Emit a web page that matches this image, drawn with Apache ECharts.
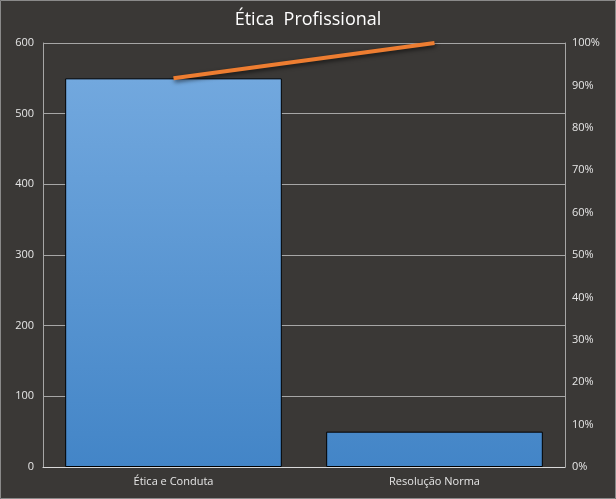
<!DOCTYPE html>
<html><head><meta charset="utf-8">
<script src="https://cdn.jsdelivr.net/npm/echarts@6/dist/echarts.min.js"></script>
<style>html,body{margin:0;padding:0;background:#3a3836;}#c{width:616px;height:499px;}</style>
</head><body><div id="c"></div>
<script>
const categories = ['Ética e Conduta', 'Resolução Norma'];
const counts = [550, 50];
const cumulativePct = [91.67, 100];
const titleText = 'Ética  Profissional';

const chart = echarts.init(document.getElementById('c'));
chart.setOption({
  backgroundColor: '#3a3836',
  animation: false,
  title: {
    text: titleText, left: 'center', top: 6,
    textStyle: {color: '#ffffff', fontSize: 18, fontWeight: 'normal', fontFamily: 'Open Sans'}
  },
  graphic: [{type: 'rect', shape: {x: 0.5, y: 0.5, width: 615, height: 498}, style: {fill: 'none', stroke: '#8a8a8a', lineWidth: 1}, silent: true}],
  grid: {left: 43, right: 51, top: 43, bottom: 32},
  xAxis: {
    type: 'category', data: categories,
    axisLine: {lineStyle: {color: '#d9d9d9', width: 1}},
    axisTick: {show: false},
    axisLabel: {color: '#e6e6e6', fontSize: 11, fontFamily: 'Open Sans', margin: 9}
  },
  yAxis: [{
    type: 'value', min: 0, max: 600, interval: 100,
    axisLine: {show: true, lineStyle: {color: '#a6a6a6'}},
    axisTick: {show: false},
    splitLine: {lineStyle: {color: '#a6a6a6'}},
    axisLabel: {color: '#e6e6e6', fontSize: 11, fontFamily: 'Open Sans', margin: 9}
  }, {
    type: 'value', min: 0, max: 100, interval: 10,
    axisLine: {show: true, lineStyle: {color: '#a6a6a6'}},
    axisTick: {show: false},
    splitLine: {show: false},
    axisLabel: {color: '#e6e6e6', fontSize: 11, fontFamily: 'Open Sans', margin: 7, formatter: '{value}%'}
  }],
  series: [{
    type: 'bar', data: counts, barCategoryGap: '17%',
    itemStyle: {
      borderColor: '#000', borderWidth: 1,
      color: new echarts.graphic.LinearGradient(0, 79, 0, 467, [{offset: 0, color: '#72a8de'}, {offset: 1, color: '#4385c7'}], true)
    }
  }, {
    type: 'line', yAxisIndex: 1, data: cumulativePct, symbol: 'none',
    lineStyle: {color: '#ed7d31', width: 4, shadowColor: 'rgba(0,0,0,0.6)', shadowBlur: 4, shadowOffsetX: 1, shadowOffsetY: 2}
  }]
});
</script></body></html>
